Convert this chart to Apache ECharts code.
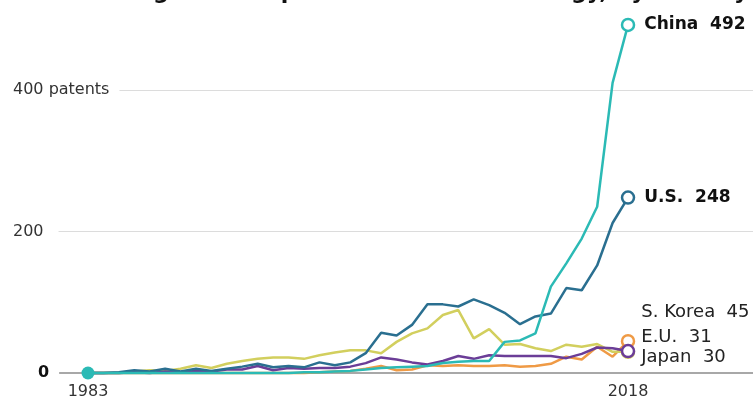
<!DOCTYPE html>
<html><head><meta charset="utf-8">
<script src="https://cdn.jsdelivr.net/npm/echarts@6/dist/echarts.min.js"></script>
<style>html,body{margin:0;padding:0;background:#fff}#c{width:753px;height:403px}</style>
</head><body><div id="c"></div>
<script>
const years = [1983,1984,1985,1986,1987,1988,1989,1990,1991,1992,1993,1994,1995,1996,1997,1998,1999,2000,2001,2002,2003,2004,2005,2006,2007,2008,2009,2010,2011,2012,2013,2014,2015,2016,2017,2018];
const china = [0,0,0,0,0,0,0,0,0,0,0,0,0,0,1,1,2,3,5,7,8,9,10,14,16,17,17,44,46,56,122,155,190,235,410,492];
const us    = [0,0,1,4,2,6,2,6,3,6,9,13,8,10,8,15,11,15,28,57,53,68,97,97,94,104,96,85,69,80,84,120,117,152,212,248];
const japan = [0,0,0,2,4,3,6,11,7,13,17,20,22,22,20,25,29,32,32,28,44,56,63,82,89,49,62,40,41,35,31,40,37,41,30,30];
const eu    = [0,0,0,1,0,2,1,3,2,5,5,10,4,7,6,7,7,9,14,22,19,15,12,17,24,20,25,24,24,24,24,21,27,36,35,31];
const korea = [0,0,0,0,0,0,0,0,0,0,0,0,0,0,0,1,2,3,6,10,4,5,11,10,11,10,10,11,9,10,13,23,19,37,23,45];
const xTickYears = [1983, 2018];
const yTicks = [0, 200, 400];
const titleText = 'Accelerating race for patents in the technology, by country';

const FONT = 'DejaVu Sans';

function mk(name, vals, color, lab, z, startDot) {
  const last = vals.length - 1;
  const data = years.map((yr, i) => {
    const d = { value: [yr, vals[i]] };
    if (i === last) {
      d.symbol = 'circle';
      d.symbolSize = 12;
      d.itemStyle = { color: '#fff', borderColor: color, borderWidth: 2.5 };
      d.label = {
        show: true, position: 'right', distance: lab.dist, offset: [0, lab.dy],
        formatter: name + '  ' + vals[i],
        fontFamily: FONT, fontSize: lab.size, fontWeight: lab.bold ? 'bold' : 'normal',
        color: lab.bold ? '#111' : '#222'
      };
    }
    if (i === 0 && startDot) {
      d.symbol = 'circle';
      d.symbolSize = 13;
      d.itemStyle = { color: color, borderWidth: 0 };
    }
    return d;
  });
  return {
    type: 'line', name, data, symbol: 'none', showSymbol: true, clip: false,
    lineStyle: { color, width: 2.5 }, itemStyle: { color }, z, silent: true,
    emphasis: { disabled: true }
  };
}

const chart = echarts.init(document.getElementById('c'), null, { renderer: 'canvas' });
chart.setOption({
  animation: false,
  backgroundColor: '#fff',
  grid: { left: 13, right: 0, top: 90, bottom: 30, containLabel: false },
  graphic: [{
    type: 'text', left: 13, top: -18, z: 10,
    style: { text: titleText, font: 'bold 22px "' + FONT + '"', fill: '#111' }
  }],
  xAxis: {
    type: 'value', min: 1978.14, max: 2026.1, z: 0,
    axisLine: { show: true, onZero: true, lineStyle: { color: '#a8a8a8', width: 2 } },
    axisTick: { show: false },
    splitLine: { show: false },
    axisLabel: { customValues: xTickYears, color: '#333', fontSize: 16, fontFamily: FONT, margin: 11,
      formatter: v => String(v) }
  },
  yAxis: [
    {
      type: 'value', min: yTicks[0], max: yTicks[yTicks.length - 1], interval: yTicks[1] - yTicks[0], z: 0,
      axisLine: { show: false }, axisTick: { show: false }, axisLabel: { show: false },
      splitLine: { show: true, lineStyle: { color: '#dcdcdc', width: 1 } }
    },
    {
      type: 'value', min: yTicks[0], max: yTicks[yTicks.length - 1], interval: yTicks[1] - yTicks[0], z: 5,
      position: 'left',
      axisLine: { show: false }, axisTick: { show: false }, splitLine: { show: false },
      axisLabel: {
        inside: true, margin: -4,
        formatter: v => v === yTicks[2] ? '{p|' + v + ' patents}' : (v === 0 ? '{z|0}' : '{t|' + v + '}'),
        rich: {
          p: { fontSize: 16, color: '#333', fontFamily: FONT, backgroundColor: '#fff', padding: [3, 10, 3, 4] },
          t: { fontSize: 16, color: '#333', fontFamily: FONT, backgroundColor: '#fff', padding: [3, 15, 3, 4] },
          z: { fontSize: 16, color: '#111', fontWeight: 'bold', fontFamily: FONT, backgroundColor: '#fff', padding: [3, 10, 3, 29] }
        }
      }
    }
  ],
  series: [
    mk('S. Korea', korea, '#ef9a45', { dist: 6, dy: -29, size: 18 }, 2),
    mk('E.U.', eu, '#6b3d97', { dist: 6, dy: -14, size: 18 }, 3),
    mk('Japan', japan, '#d2cf5e', { dist: 6, dy: 6, size: 18 }, 2),
    mk('U.S.', us, '#2a6f90', { dist: 9, dy: 0, size: 17, bold: true }, 4),
    mk('China', china, '#2bbab5', { dist: 9, dy: 0, size: 17, bold: true }, 5, true)
  ]
});
</script></body></html>
